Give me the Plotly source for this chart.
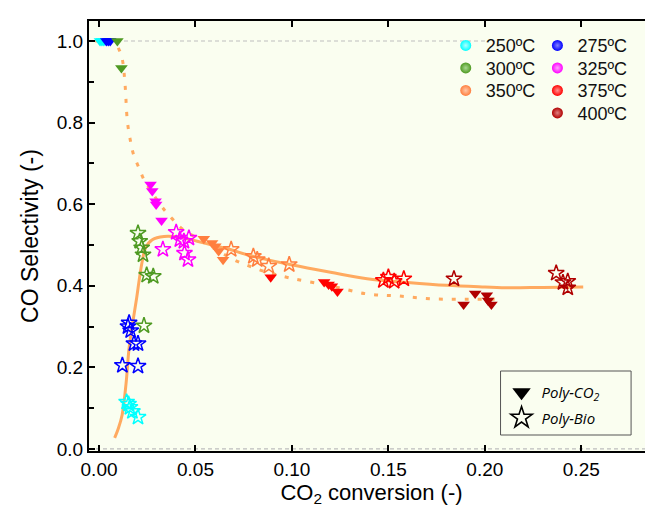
import plotly.graph_objects as go

# ---------------- data ----------------
temps = ["250ºC", "275ºC", "300ºC", "325ºC", "350ºC", "375ºC", "400ºC"]
temp_colors = ["#00FFFF", "#0000FF", "#4E9A22", "#FF00FF", "#FF7F3F", "#FF0000", "#B00000"]
temp_highlights = ["#B0FFFF", "#8080FF", "#A8D890", "#FFA0FF", "#FFC8A8", "#FF9090", "#E08080"]

# Poly-CO2 (filled down triangles)
co2_250_x = [0.0005, 0.0015, 0.0025]
co2_250_y = [1.0, 1.0, 1.0]
co2_275_x = [0.0038, 0.0048, 0.0058]
co2_275_y = [1.0, 1.0, 1.0]
co2_300_x = [0.0095, 0.0116]
co2_300_y = [1.0, 0.934]
co2_325_x = [0.0267, 0.0276, 0.0293, 0.0296, 0.0324]
co2_325_y = [0.648, 0.632, 0.607, 0.599, 0.560]
co2_350_x = [0.0543, 0.0586, 0.0603, 0.0620, 0.0643]
co2_350_y = [0.515, 0.505, 0.497, 0.485, 0.464]
co2_375_x = [0.0890, 0.1167, 0.1190, 0.1207, 0.1236]
co2_375_y = [0.421, 0.409, 0.403, 0.399, 0.386]
co2_400_x = [0.1890, 0.1950, 0.2010, 0.2017, 0.2034]
co2_400_y = [0.354, 0.381, 0.377, 0.364, 0.354]

# Poly-Bio (open stars)
bio_250_x = [0.0143, 0.0153, 0.0160, 0.0173, 0.0202]
bio_250_y = [0.115, 0.110, 0.102, 0.092, 0.078]
bio_275_x = [0.0156, 0.0150, 0.0164, 0.0181, 0.0202, 0.0121, 0.0202]
bio_275_y = [0.309, 0.300, 0.290, 0.258, 0.258, 0.205, 0.203]
bio_300_x = [0.0202, 0.0211, 0.0221, 0.0228, 0.0247, 0.0281, 0.0233]
bio_300_y = [0.529, 0.509, 0.493, 0.476, 0.426, 0.423, 0.302]
bio_325_x = [0.0331, 0.0400, 0.0419, 0.0440, 0.0466, 0.0443, 0.0461]
bio_325_y = [0.489, 0.531, 0.513, 0.509, 0.517, 0.480, 0.464]
bio_350_x = [0.0685, 0.0800, 0.0820, 0.0880, 0.0986]
bio_350_y = [0.489, 0.472, 0.464, 0.448, 0.452]
bio_375_x = [0.1474, 0.1500, 0.1530, 0.1580]
bio_375_y = [0.413, 0.421, 0.411, 0.417]
bio_400_x = [0.1840, 0.2370, 0.2405, 0.2430, 0.2430]
bio_400_y = [0.417, 0.431, 0.408, 0.411, 0.395]

# fitted trend curves
fit_bio_x = [0.0081, 0.0100, 0.0120, 0.0140, 0.0156, 0.0175, 0.0195, 0.0210, 0.0224, 0.0241,
             0.0276, 0.0337, 0.0420, 0.0509, 0.0610, 0.0680, 0.0767, 0.0853, 0.0990, 0.1200,
             0.1390, 0.1600, 0.1800, 0.2000, 0.2130, 0.2300, 0.2510]
fit_bio_y = [0.027, 0.050, 0.084, 0.160, 0.248, 0.310, 0.370, 0.420, 0.460, 0.493,
             0.513, 0.521, 0.519, 0.509, 0.497, 0.489, 0.476, 0.466, 0.452, 0.433,
             0.417, 0.408, 0.401, 0.397, 0.395, 0.396, 0.397]
fit_co2_x = [-0.0020, 0.0040, 0.0080, 0.0104, 0.0121, 0.0135, 0.0147, 0.0165, 0.0180, 0.0207,
             0.0233, 0.0270, 0.0337, 0.0380, 0.0422, 0.0483, 0.0550, 0.0620, 0.0698, 0.0759,
             0.0853, 0.1000, 0.1200, 0.1390, 0.1550, 0.1730, 0.1900, 0.2085]
fit_co2_y = [1.000, 1.000, 0.996, 0.979, 0.954, 0.893, 0.803, 0.750, 0.720, 0.689,
             0.660, 0.632, 0.587, 0.564, 0.543, 0.524, 0.505, 0.485, 0.464, 0.452,
             0.436, 0.418, 0.400, 0.380, 0.375, 0.368, 0.367, 0.367]

# reference (dashed) lines
ref_y = [1.0, 0.0]
ref_x_end = [0.20, 0.2877]

x_ticks = [0.00, 0.05, 0.10, 0.15, 0.20, 0.25]
y_ticks = [0.0, 0.2, 0.4, 0.6, 0.8, 1.0]

co2_sets = [(co2_250_x, co2_250_y), (co2_275_x, co2_275_y), (co2_300_x, co2_300_y),
            (co2_325_x, co2_325_y), (co2_350_x, co2_350_y), (co2_375_x, co2_375_y),
            (co2_400_x, co2_400_y)]
bio_sets = [(bio_250_x, bio_250_y), (bio_275_x, bio_275_y), (bio_300_x, bio_300_y),
            (bio_325_x, bio_325_y), (bio_350_x, bio_350_y), (bio_375_x, bio_375_y),
            (bio_400_x, bio_400_y)]

FONT = "Liberation Sans, Arial, sans-serif"
CURVE = "#FFAA60"

# plot-area geometry (pixels) used to place legends
W, H = 653, 508
ML, MR, MT, MB = 81, 5, 13, 65
PW, PH = W - ML - MR, H - MT - MB


def px_x(p):
    return (p - ML) / PW


def px_y(p):
    return 1 - (p - MT) / PH


fig = go.Figure()

# curves
fig.add_trace(go.Scatter(x=fit_co2_x, y=fit_co2_y, mode="lines", line_shape="spline",
                         line=dict(color=CURVE, width=3, dash="4px,9px"), showlegend=False))
fig.add_trace(go.Scatter(x=fit_bio_x, y=fit_bio_y, mode="lines", line_shape="spline",
                         line=dict(color=CURVE, width=3), showlegend=False))

# data markers
for (bx, by), c in zip(bio_sets, temp_colors):
    fig.add_trace(go.Scatter(x=bx, y=by, mode="markers", showlegend=False,
                             marker=dict(symbol="star-open", size=12, color=c,
                                         line=dict(width=1.5, color=c))))
for (cx, cy), c in zip(co2_sets, temp_colors):
    fig.add_trace(go.Scatter(x=cx, y=cy, mode="markers", showlegend=False,
                             marker=dict(symbol="triangle-down", size=11, color=c,
                                         line=dict(width=0))))

# temperature legend: one small legend per entry (two columns, fixed row pitch)
col_left = [439, 531]
row_center = [37.7, 60.2, 82.7, 105.2]
slot = {0: (0, 0), 1: (1, 0), 2: (0, 1), 3: (1, 1), 4: (0, 2), 5: (1, 2), 6: (1, 3)}
legend_layouts = {}
for i, t in enumerate(temps):
    name = "legend" if i == 0 else f"legend{i + 1}"
    cidx, ridx = slot[i]
    fig.add_trace(go.Scatter(x=[None], y=[None], mode="markers", name=t, legend=name,
                             marker=dict(symbol="circle", size=11, color=temp_colors[i],
                                         gradient=dict(type="radial", color=temp_highlights[i]),
                                         line=dict(width=0))))
    legend_layouts[name] = dict(x=px_x(col_left[cidx]), y=px_y(row_center[ridx]),
                                xanchor="left", yanchor="middle",
                                font=dict(family=FONT, size=18, color="#111111"),
                                bgcolor="rgba(0,0,0,0)", itemsizing="trace")

# marker-type legend
fig.add_trace(go.Scatter(x=[None], y=[None], mode="markers", name="<i>Poly-CO<sub>2</sub></i>",
                         legend="legend8", legendgroup="a",
                         marker=dict(symbol="triangle-down", size=16, color="black")))
fig.add_trace(go.Scatter(x=[None], y=[None], mode="markers", name="<i>Poly-Bio</i>",
                         legend="legend8", legendgroup="b",
                         marker=dict(symbol="star-open", size=16, color="black",
                                     line=dict(width=1.6, color="black"))))
legend_layouts["legend8"] = dict(x=px_x(495), y=px_y(368), xanchor="left", yanchor="top",
                                 font=dict(family="Open Sans, sans-serif", size=15, color="black"),
                                 bgcolor="rgba(0,0,0,0)", tracegroupgap=3, itemsizing="trace")

shapes = []
for yv, xe in zip(ref_y, ref_x_end):
    shapes.append(dict(type="line", xref="x", yref="y", x0=-0.0052, x1=xe, y0=yv, y1=yv,
                       line=dict(color="#BDBDBD", width=1.2, dash="4px,3px"), layer="below"))
shapes.append(dict(type="rect", xref="paper", yref="paper",
                   x0=px_x(494), x1=px_x(625), y0=px_y(427), y1=px_y(363),
                   line=dict(color="#555555", width=1), fillcolor="rgba(0,0,0,0)"))

fig.update_layout(
    width=W, height=H,
    margin=dict(l=ML, r=MR, t=MT, b=MB),
    paper_bgcolor="white",
    plot_bgcolor="#FAFEF0",
    font=dict(family=FONT, size=19, color="black"),
    shapes=shapes,
    **legend_layouts,
)

fig.update_xaxes(
    range=[-0.0052, 0.2877], tickvals=x_ticks, ticktext=[f"{v:.2f}" for v in x_ticks],
    ticks="inside", ticklen=6, tickwidth=2, tickcolor="black",
    showline=True, linewidth=2, linecolor="black", mirror="ticks",
    showgrid=False, zeroline=False,
    tickfont=dict(family=FONT, size=19),
    title=dict(text="CO<sub>2</sub> conversion (-)", font=dict(family=FONT, size=22), standoff=0),
)
fig.update_yaxes(
    range=[-0.005, 1.049], tickvals=y_ticks, ticktext=[f"{v:.1f}" for v in y_ticks],
    ticks="inside", ticklen=6, tickwidth=2, tickcolor="black",
    minor=dict(ticks="inside", tickvals=[0.1, 0.3, 0.5, 0.7, 0.9], ticklen=5, tickwidth=2,
               tickcolor="black"),
    showline=True, linewidth=2, linecolor="black", mirror="ticks",
    showgrid=False, zeroline=False,
    tickfont=dict(family=FONT, size=19),
    title=dict(text="CO Selectivity (-)", font=dict(family=FONT, size=23), standoff=12),
)

fig.write_html("out.html")
